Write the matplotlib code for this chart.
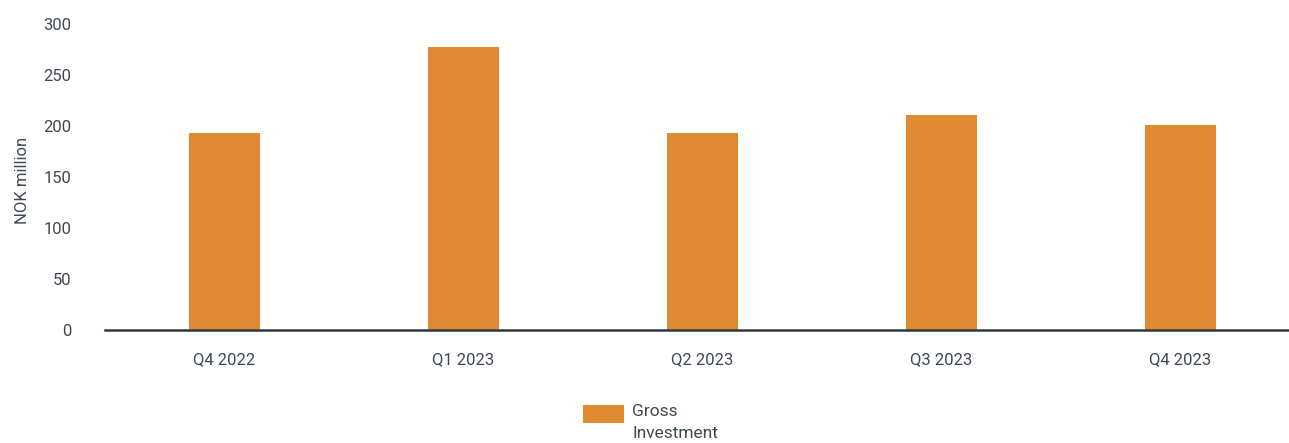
import matplotlib
matplotlib.use("Agg")
import matplotlib.pyplot as plt
from matplotlib.patches import Rectangle

categories = ["Q4 2022", "Q1 2023", "Q2 2023", "Q3 2023", "Q4 2023"]
gross_investment = [193, 277, 193, 211, 201]
yticks = [0, 50, 100, 150, 200, 250, 300]
legend_label = "Gross\nInvestment"

plt.rcParams['font.family'] = ['Roboto', 'DejaVu Sans']
text_color = "#3f4852"
bar_color = "#E08A31"

W, H = 1289, 443
fig = plt.figure(figsize=(W / 100, H / 100), dpi=100)
ax = fig.add_axes([105/W, 1 - 330/H, (1300-105)/W, (330-24)/H])
x = range(len(categories))
ax.bar(x, gross_investment, width=0.3, color=bar_color, zorder=2)
ax.set_xlim(-0.5, len(categories) - 0.5)
ax.set_ylim(0, 300)
ax.set_yticks(yticks)
ax.set_xticks(list(x))
ax.set_xticklabels(categories)
for s in ["top", "right", "left"]:
    ax.spines[s].set_visible(False)
ax.spines["bottom"].set_color("#2d3842")
ax.spines["bottom"].set_linewidth(1.8)
ax.spines["bottom"].set_zorder(3)
ax.tick_params(axis="both", length=0, labelsize=12, colors=text_color)
ax.tick_params(axis="x", pad=16)
ax.tick_params(axis="y", pad=24)
ax.set_ylabel("NOK million", fontsize=12, color=text_color)
ax.yaxis.set_label_coords(-75/1195, 0.49)

# legend (drawn manually to match the reference layout)
fig.add_artist(Rectangle((583/W, 1 - 423/H), 41/W, 18/H, transform=fig.transFigure,
                         facecolor=bar_color, edgecolor="none"))
fig.text(632/W, 1 - 404/H, legend_label, fontsize=12.5, color=text_color,
         ha="left", va="top", linespacing=1.6)

fig.savefig("out.png", dpi=100)
